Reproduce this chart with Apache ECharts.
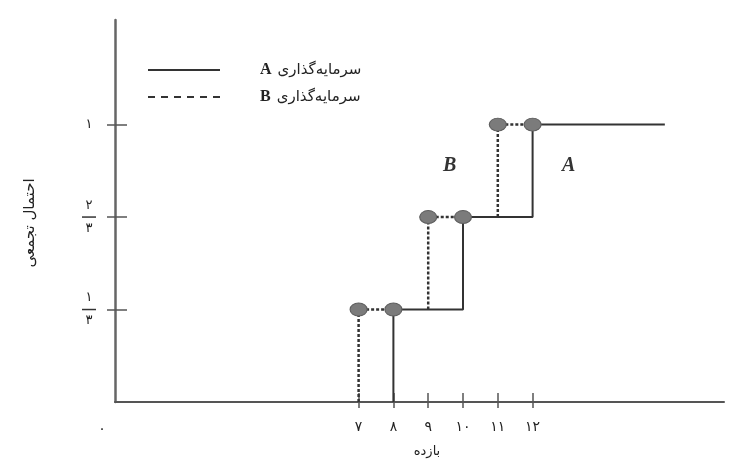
<!DOCTYPE html>
<html>
<head>
<meta charset="utf-8">
<script src="https://cdn.jsdelivr.net/npm/echarts@6/dist/echarts.min.js"></script>
<style>
  html, body { margin: 0; padding: 0; background: #fff; }
  #chart { width: 731px; height: 460px; }
</style>
</head>
<body>
<div id="chart"></div>
<script>
// data
const returnsA = [8, 10, 12];
const returnsB = [7, 9, 11];
const cumProb = [1 / 3, 2 / 3, 1];
const tailReturnA = 15.8;
const xTickValues = [0, 7, 8, 9, 10, 11, 12];
const xTickLabels = ["۰", "۷", "۸", "۹", "۱۰", "۱۱", "۱۲"];
const yTickLabels = [["۱", "۳"], ["۲", "۳"], ["۱"]];
const seriesNames = ["A", "B"];

const persianFont = "DejaVu Sans";
const inkColor = "#333";

// step-shaped cumulative line: up at each return, then flat to the next one
function stepPoints(xs, ps, end) {
  const pts = [[xs[0], 0]];
  xs.forEach((x, i) => {
    pts.push([x, ps[i]]);
    pts.push([i + 1 < xs.length ? xs[i + 1] : end, ps[i]]);
  });
  return pts;
}

// B only where it does not sit on top of A: riser, then flat until A's jump
function stepPointsB() {
  const pts = [];
  returnsB.forEach((x, i) => {
    if (i > 0) pts.push("-");
    pts.push([x, i > 0 ? cumProb[i - 1] : 0]);
    pts.push([x, cumProb[i]]);
    pts.push([returnsA[i], cumProb[i]]);
  });
  return pts;
}

const dotPoints = [];
returnsB.forEach((x, i) => {
  dotPoints.push([x, cumProb[i]]);
  dotPoints.push([returnsA[i], cumProb[i]]);
});

function dashIcon() {
  let p = "path://";
  for (let i = 0; i < 6; i++) {
    const x = i * 13;
    p += "M" + x + ",0H" + (x + 7) + "V2H" + x + "Z";
  }
  return p;
}

const chart = echarts.init(document.getElementById("chart"));

chart.setOption({
  animation: false,
  backgroundColor: "#fff",
  grid: { left: 115, right: 7, top: 20, bottom: 58 },
  legend: {
    orient: "vertical",
    left: 148,
    top: 62,
    padding: 0,
    itemWidth: 72,
    itemHeight: 14,
    itemGap: 11,
    selectedMode: false,
    data: [
      { name: "A", icon: "path://M0,0H72V2H0Z" },
      { name: "B", icon: dashIcon() },
    ],
    formatter: (n) => "{sp| }{la|" + n + "}{fa|سرمایه‌گذاری}",
    textStyle: {
      color: "#222",
      rich: {
        sp: { width: 35 },
        la: { fontFamily: "Liberation Serif", fontSize: 16, fontWeight: "bold", padding: [0, 6, 0, 0] },
        fa: { fontFamily: persianFont, fontSize: 15 },
      },
    },
  },
  xAxis: [
    {
      type: "value",
      min: 0,
      max: 17.5,
      splitLine: { show: false },
      axisLine: { lineStyle: { color: "#555", width: 2 } },
      axisTick: { customValues: returnsB.concat(returnsA), length: 6, lineStyle: { color: "#555", width: 1.5 } },
      axisLabel: {
        customValues: xTickValues,
        margin: 18,
        fontSize: 14,
        color: "#222",
        fontFamily: persianFont,
        formatter: (v) => {
          const i = xTickValues.indexOf(v);
          if (i < 0) return "";
          return v === 0 ? "{z|" + xTickLabels[i] + "}" : xTickLabels[i];
        },
        rich: { z: { fontSize: 14, fontFamily: persianFont, padding: [2, 26, 0, 0] } },
      },
    },
    {
      type: "value",
      position: "bottom",
      min: 0,
      max: 17.5,
      splitLine: { show: false },
      axisLine: { show: false },
      axisLabel: { show: false },
      axisTick: { inside: true, customValues: returnsB.concat(returnsA), length: 9, lineStyle: { color: "#555", width: 1.5 } },
    },
  ],
  yAxis: [
    {
      type: "value",
      min: 0,
      max: 1.377,
      splitLine: { show: false },
      axisLine: { lineStyle: { color: "#666", width: 2.5 } },
      axisTick: { customValues: cumProb, length: 8, lineStyle: { color: "#555", width: 1.5 } },
      axisLabel: {
        customValues: cumProb,
        margin: 26,
        align: "center",
        color: "#222",
        formatter: (v) => {
          const i = cumProb.findIndex((p) => Math.abs(p - v) < 1e-6);
          if (i < 0) return "";
          const f = yTickLabels[i];
          if (f.length === 1) return "{n|" + f[0] + "}";
          return "{n|" + f[0] + "}\n{b| }\n{n|" + f[1] + "}";
        },
        rich: {
          n: { fontSize: 13, fontFamily: persianFont, lineHeight: 21, align: "center" },
          b: { width: 14, height: 1.5, lineHeight: 2, backgroundColor: "#333", align: "center" },
        },
      },
    },
    {
      type: "value",
      position: "left",
      min: 0,
      max: 1.377,
      splitLine: { show: false },
      axisLine: { show: false },
      axisLabel: { show: false },
      axisTick: { inside: true, customValues: cumProb, length: 12, lineStyle: { color: "#555", width: 1.5 } },
    },
  ],
  series: [
    {
      name: seriesNames[1],
      type: "line",
      symbol: "none",
      color: inkColor,
      connectNulls: false,
      lineStyle: { color: inkColor, width: 2.5, type: [3, 2] },
      data: stepPointsB(),
      z: 2,
    },
    {
      name: seriesNames[0],
      type: "line",
      symbol: "none",
      color: inkColor,
      lineStyle: { color: inkColor, width: 2 },
      data: stepPoints(returnsA, cumProb, tailReturnA),
      z: 3,
    },
    {
      type: "scatter",
      symbol: "circle",
      symbolSize: [17, 13],
      itemStyle: { color: "#7b7b7b", borderColor: "#5e5e5e", borderWidth: 1, opacity: 1 },
      data: dotPoints,
      z: 4,
    },
  ],
  graphic: [
    {
      type: "text",
      left: 443,
      top: 156,
      style: { text: "B", font: "italic bold 20px 'Liberation Serif'", fill: "#333" },
    },
    {
      type: "text",
      left: 562,
      top: 156,
      style: { text: "A", font: "italic bold 20px 'Liberation Serif'", fill: "#333" },
    },
    {
      type: "text",
      x: 427,
      y: 452,
      style: { text: "بازده", font: "13px 'DejaVu Sans'", fill: "#222", align: "center", verticalAlign: "middle" },
    },
    {
      type: "text",
      x: 30,
      y: 223,
      rotation: Math.PI / 2,
      style: { text: "احتمال تجمعی", font: "15px 'DejaVu Sans'", fill: "#222", align: "center", verticalAlign: "middle" },
    },
  ],
});
</script>
</body>
</html>
